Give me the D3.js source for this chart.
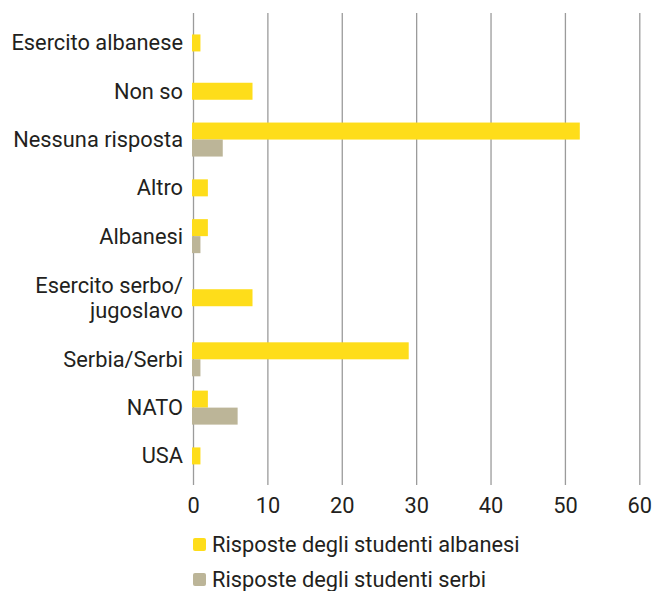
<!DOCTYPE html>
<html>
<head>
<meta charset="utf-8">
<script src="https://cdn.jsdelivr.net/npm/d3@7"></script>
<style>
  html, body { margin: 0; padding: 0; background: #fff; }
  svg { display: block; }
  text { font-family: Roboto, "Open Sans", sans-serif; fill: #231f20; }
</style>
</head>
<body>
<svg id="chart" width="654" height="591"></svg>
<script>
// ---- data ----
const categories = ["Esercito albanese", "Non so", "Nessuna risposta", "Altro", "Albanesi",
                    "Esercito serbo/\njugoslavo", "Serbia/Serbi", "NATO", "USA"];
const valuesAlbanesi = [1, 8, 52, 2, 2, 8, 29, 2, 1];
const valuesSerbi    = [0, 0, 4, 0, 1, 0, 1, 6, 0];
const seriesNames = ["Risposte degli studenti albanesi", "Risposte degli studenti serbi"];
const xTicks = [0, 10, 20, 30, 40, 50, 60];

// ---- style ----
const colors = ["#FEDD1A", "#BCB598"];
const fontSize = 21.8;
const barH = 17;
const svg = d3.select("#chart");

const x = d3.scaleLinear().domain([0, 60]).range([193, 639.3]);

// category slots: two-line labels take more room
const lines = categories.map(c => c.split("\n"));
const units = lines.map(l => 1 + 0.55 * (l.length - 1));
const starts = [];
units.reduce((acc, u, i) => { starts[i] = acc; return acc + u; }, 0);
const totalUnits = d3.sum(units);
const unitPx = 48.3;
const y = d3.scaleLinear().domain([0, totalUnits]).range([18.8, 18.8 + totalUnits * unitPx]);
const centerOf = i => y(starts[i] + units[i] / 2);

const gridTop = 13, gridBottom = 485;

// grid + axis
const axis = d3.axisBottom(x).tickValues(xTicks).tickSize(-(gridBottom - gridTop)).tickPadding(0);
const gAxis = svg.append("g").attr("transform", `translate(0,${gridBottom})`).call(axis);
gAxis.select(".domain").remove();
gAxis.selectAll(".tick line").attr("stroke", "#9b9b9b").attr("stroke-width", 1.3);
gAxis.selectAll(".tick text")
  .attr("y", 28).attr("dy", null)
  .attr("font-size", fontSize)
  .attr("font-family", "Roboto, sans-serif")
  .attr("fill", "#231f20");

// bars
const series = [valuesAlbanesi, valuesSerbi];
const gBars = svg.append("g");
categories.forEach((c, i) => {
  const present = series.map((s, k) => k).filter(k => series[k][i] > 0);
  const inner = d3.scaleBand().domain(present).range([-present.length * barH / 2, present.length * barH / 2]);
  const cy = centerOf(i);
  present.forEach(k => {
    gBars.append("rect")
      .attr("x", x(0) - 1)
      .attr("y", cy + inner(k))
      .attr("width", x(series[k][i]) - x(0) + 1)
      .attr("height", inner.bandwidth())
      .attr("fill", colors[k]);
  });
});

// category labels
const gLab = svg.append("g");
categories.forEach((c, i) => {
  const ls = lines[i];
  const cy = centerOf(i);
  const lh = 25;
  ls.forEach((t, j) => {
    gLab.append("text")
      .attr("x", 183)
      .attr("y", cy + (j - (ls.length - 1) / 2) * lh)
      .attr("dy", "0.34em")
      .attr("text-anchor", "end")
      .attr("font-size", fontSize)
      .text(t);
  });
});

// legend
const legendY = [538, 573];
seriesNames.forEach((name, k) => {
  svg.append("rect")
    .attr("x", 193).attr("y", legendY[k])
    .attr("width", 13).attr("height", 13)
    .attr("rx", 2)
    .attr("fill", colors[k]);
  svg.append("text")
    .attr("x", 212).attr("y", legendY[k] + 14)
    .attr("font-size", fontSize)
    .text(name);
});
</script>
</body>
</html>
